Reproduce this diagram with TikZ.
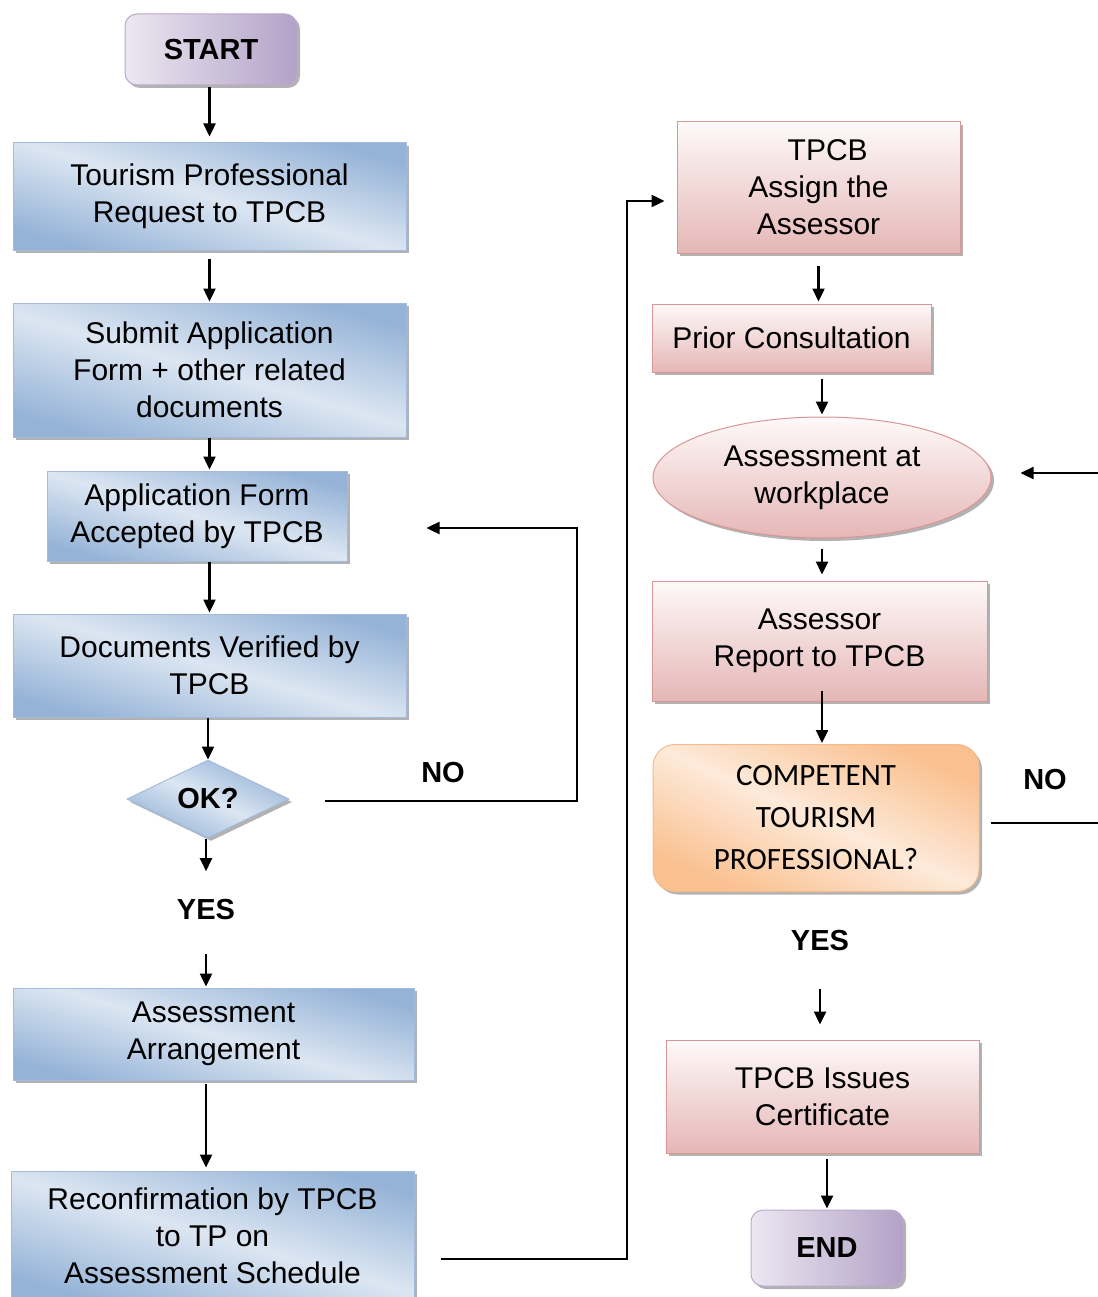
\documentclass[tikz,border=0pt]{standalone}
\usepackage{fontspec}
\setmainfont{Liberation Sans}
\newfontfamily\calfont{Carlito}
\usetikzlibrary{shapes.geometric,arrows.meta,shadows,calc}
\definecolor{bluD}{HTML}{95B3D7}
\definecolor{bluL}{HTML}{DCE6F2}
\definecolor{bluB}{HTML}{A3BCDC}
\definecolor{pnkT}{HTML}{FEF9F9}
\definecolor{pnkB}{HTML}{E5B7B6}
\definecolor{pnkE}{HTML}{D99694}
\definecolor{orD}{HTML}{FAC08F}
\definecolor{orL}{HTML}{FDEADA}
\definecolor{orE}{HTML}{F5BB8A}
\definecolor{purL}{HTML}{ECE7F1}
\definecolor{purD}{HTML}{B3A2C7}
\definecolor{purE}{HTML}{B9AACB}
\begin{document}
\begin{tikzpicture}[x=1pt,y=-1pt,
  txt/.style={font=\fontsize{30}{37}\selectfont, align=center, text=black, inner sep=0pt},
  lbl/.style={font=\fontsize{29}{34}\selectfont\bfseries, text=black},
  shad/.style={drop shadow={shadow xshift=3pt,shadow yshift=-3pt,fill=black,opacity=0.3}},
  bluebox/.style={txt, shad, rectangle, draw=bluB, line width=1pt,
     left color=bluD, right color=bluD, middle color=bluL, shading angle=164},
  pinkbox/.style={txt, shad, rectangle, draw=pnkE, line width=1pt,
     top color=pnkT, bottom color=pnkB},
  termbox/.style={lbl, shad, rectangle, rounded corners=12pt, draw=purE, line width=1pt,
     left color=purL, right color=purD, inner sep=0pt},
  decbox/.style={shad, rectangle, rounded corners=22pt, draw=orE, line width=1pt,
     left color=orD, right color=orD, middle color=orL, shading angle=156,
     font=\calfont\fontsize{31}{42}\selectfont, align=center, inner sep=0pt},
  arr/.style={-{Triangle[length=13pt,width=12pt]}, line width=2.4pt, black},
  ln/.style={line width=2.4pt, black}
]
\useasboundingbox (0,0) rectangle (1097,1297);

% left column
\node[termbox, minimum width=172pt, minimum height=71pt] (start) at (211,49.5) {START};
\node[bluebox, minimum width=393pt, minimum height=107pt] (b1) at (209.5,196.5) {Tourism Professional\\Request to TPCB};
\node[bluebox, minimum width=393pt, minimum height=134pt] (b2) at (209.5,370) {Submit Application\\Form + other related\\documents};
\node[bluebox, minimum width=300pt, minimum height=90pt] (b3) at (197,516) {Application Form\\Accepted by TPCB};
\node[bluebox, minimum width=393pt, minimum height=103pt] (b4) at (209.5,665.5) {Documents Verified by\\TPCB};
\node[lbl, shad, shape=diamond, aspect=2, minimum width=162pt, minimum height=78pt, inner sep=0pt,
      draw=bluB, line width=1pt, left color=bluD, right color=bluD, middle color=bluL, shading angle=154] (ok) at (208,799) {OK?};
\node[lbl] (yes1) at (206,910) {YES};
\node[lbl] (no1) at (443,773) {NO};
\node[bluebox, minimum width=401pt, minimum height=92pt] (b5) at (213.5,1034) {Assessment\\Arrangement};
\node[bluebox, minimum width=403pt, minimum height=130pt] (b6) at (212.5,1236) {Reconfirmation by TPCB\\to TP on\\Assessment Schedule};

% right column
\node[pinkbox, minimum width=283pt, minimum height=131pt] (r1) at (818.5,187.5) {\phantom{T}TPCB\\Assign the\\Assessor};
\node[pinkbox, minimum width=279pt, minimum height=68pt] (r2) at (791.5,338) {Prior Consultation};
\node[txt, shad, ellipse, minimum width=338pt, minimum height=121pt, draw=pnkE, line width=1pt,
      top color=pnkT, bottom color=pnkB] (ell) at (822,477.5) {Assessment at\\workplace};
\node[pinkbox, minimum width=335pt, minimum height=120pt] (r3) at (819.5,641) {Assessor\\Report to TPCB};
\node[decbox, minimum width=326pt, minimum height=147pt] (r4) at (816,818) {COMPETENT\\TOURISM\\PROFESSIONAL?};
\node[lbl] (no2) at (1045,780) {NO};
\node[lbl] (yes2) at (820,941) {YES};
\node[pinkbox, minimum width=313pt, minimum height=113pt] (r5) at (822.5,1096.5) {TPCB Issues\\Certificate};
\node[termbox, minimum width=152pt, minimum height=76pt] (end) at (827,1248) {END};

% coordinates
\coordinate (noc) at (577,528);
\coordinate (c2) at (627,1259);
\coordinate (c3) at (627,201);
\coordinate (e1) at (1100,823);
\coordinate (e2) at (1100,473);

% left connectors
\draw[arr, shorten <=2pt, shorten >=6pt] (b1.north |- start.south) -- (b1.north);
\draw[arr, shorten <=8pt, shorten >=1pt] (b1.south) -- (b2.north);
\draw[arr, shorten >=1pt] (b2.south) -- (b2.south |- b3.north);
\draw[arr, shorten >=1pt] (b4.north |- b3.south) -- (b4.north);
\draw[arr] (ok.north |- b4.south) -- (ok.north);
\draw[arr, shorten >=25pt] (yes1 |- ok.south) -- (yes1);
\draw[arr, shorten <=30pt, shorten >=1pt] (yes1) -- (yes1 |- b5.north);
\draw[arr, shorten <=3pt, shorten >=3pt] (yes1 |- b5.south) -- (yes1 |- b6.north);
\draw[arr, shorten <=35pt, shorten >=79pt] (ok.east) ++(0,2) -| (noc) -- (noc -| b3.east);
\draw[arr, shorten <=26pt, shorten >=12pt] (c2 -| b6.east) -- (c2) -- (c3) -- (c3 -| r1.west);

% right connectors
\draw[arr, shorten <=12pt, shorten >=2pt] (r1.south) -- (r1.south |- r2.north);
\draw[arr, shorten <=6pt, shorten >=2pt] (ell.north |- r2.south) -- (ell.north);
\draw[arr, shorten <=10pt, shorten >=6pt] (ell.south) -- (ell.south |- r3.north);
\draw[arr, shorten <=-11pt, shorten >=1pt] (ell.south |- r3.south) -- (ell.south |- r4.north);
\draw[arr, shorten <=34pt, shorten >=15pt] (yes2) -- (yes2 |- r5.north);
\draw[arr, shorten <=5pt, shorten >=1pt] (end.north |- r5.south) -- (end.north);
\draw[ln, shorten <=11pt] (e1 -| r4.east) -- (e1);
\draw[arr, shorten >=29pt] (e2) -- (e2 -| ell.east);
\end{tikzpicture}
\end{document}
